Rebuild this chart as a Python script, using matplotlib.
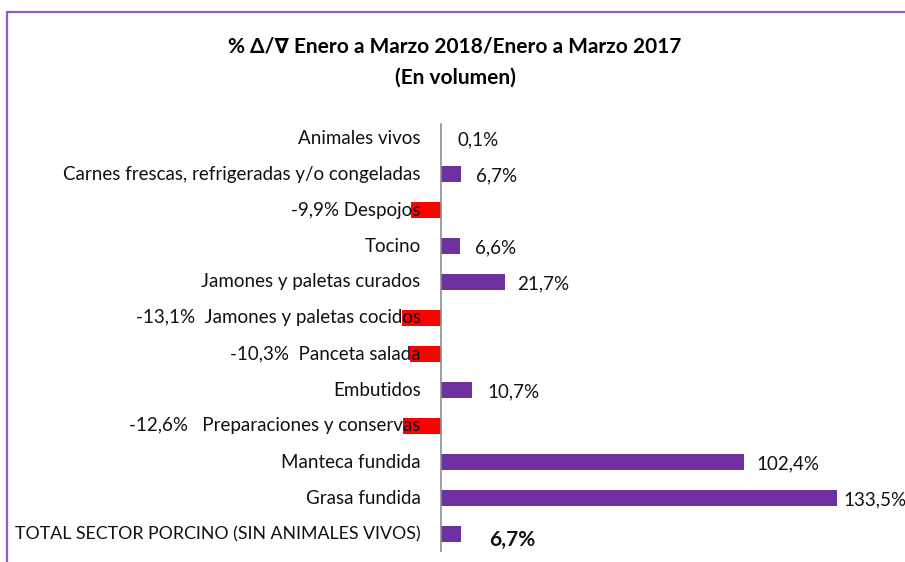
import matplotlib
matplotlib.use("Agg")
import matplotlib.pyplot as plt
from matplotlib.patches import Rectangle
from matplotlib.transforms import offset_copy

categories = [
    "Animales vivos",
    "Carnes frescas, refrigeradas y/o congeladas",
    "Despojos",
    "Tocino",
    "Jamones y paletas curados",
    "Jamones y paletas cocidos",
    "Panceta salada",
    "Embutidos",
    "Preparaciones y conservas",
    "Manteca fundida",
    "Grasa fundida",
    "TOTAL SECTOR PORCINO (SIN ANIMALES VIVOS)",
]
values = [0.1, 6.7, -9.9, 6.6, 21.7, -13.1, -10.3, 10.7, -12.6, 102.4, 133.5, 6.7]
value_labels = ["0,1%", "6,7%", "-9,9%", "6,6%", "21,7%", "-13,1%", "-10,3%",
                "10,7%", "-12,6%", "102,4%", "133,5%", "6,7%"]
neg_gap = ["", "", "", "", "", " ", " ", "", "  ", "", "", ""]

title = "% \u0394/\u2207 Enero a Marzo 2018/Enero a Marzo 2017\n(En volumen)"

PURPLE = "#7030a0"
RED = "#ff0000"
FONT = ["Lato", "DejaVu Sans"]
plt.rcParams["font.family"] = FONT

W, H = 905, 562
fig = plt.figure(figsize=(W / 100, H / 100), dpi=100)

# outer chart frame
fig.patches.append(Rectangle((7 / W, -0.02), 1.05, 1 - 12 / H + 0.02,
                             transform=fig.transFigure, fill=False,
                             edgecolor="#8e5cc2", linewidth=1.6))

ax_l, ax_r = 322, 900.4
ax_t, ax_b = 120, 552
ax = fig.add_axes([ax_l / W, 1 - ax_b / H, (ax_r - ax_l) / W, (ax_b - ax_t) / H])
ax.set_xlim(-40, 155)
ax.set_ylim(len(categories) - 0.5, -0.5)
ax.axis("off")

ys = list(range(len(categories)))
colors = [PURPLE if v >= 0 else RED for v in values]
ax.barh(ys, values, height=0.44, color=colors, zorder=3)
ax.plot([0, 0], [len(categories) - 0.35, -0.38], color="#8c8c8c", lw=1.2, zorder=4)

lab_tr = offset_copy(ax.transData, fig=fig, x=-20, y=0, units="dots")
for i, (y, cat, v, vl, gap) in enumerate(zip(ys, categories, values, value_labels, neg_gap)):
    last = i == len(values) - 1
    txt = cat if v >= 0 else f"{vl} {gap}{cat}"
    ax.text(0, y, txt, transform=lab_tr, ha="right", va="center",
            fontsize=12.8 if last else 13.5, color="#111111", zorder=5)

for i, (y, v, vl) in enumerate(zip(ys, values, value_labels)):
    if v < 0:
        continue
    last = i == len(values) - 1
    first = i == 0
    if last:
        dx = 29
    elif first:
        dx = 17
    elif v > 120:
        dx = 7
    elif v > 15:
        dx = 12
    else:
        dx = 15
    dy = -6 if last else -2
    tr = offset_copy(ax.transData, fig=fig, x=dx, y=dy, units="dots")
    ax.text(v, y, vl, transform=tr, ha="left", va="center",
            fontsize=15 if last else 13.5,
            fontweight="bold" if last else "normal", color="#111111", zorder=5)

fig.text(455 / W, 1 - 62 / H, title, ha="center", va="center",
         fontsize=15, fontweight="bold", linespacing=1.7, family=FONT)

fig.savefig("out.png", dpi=100)
